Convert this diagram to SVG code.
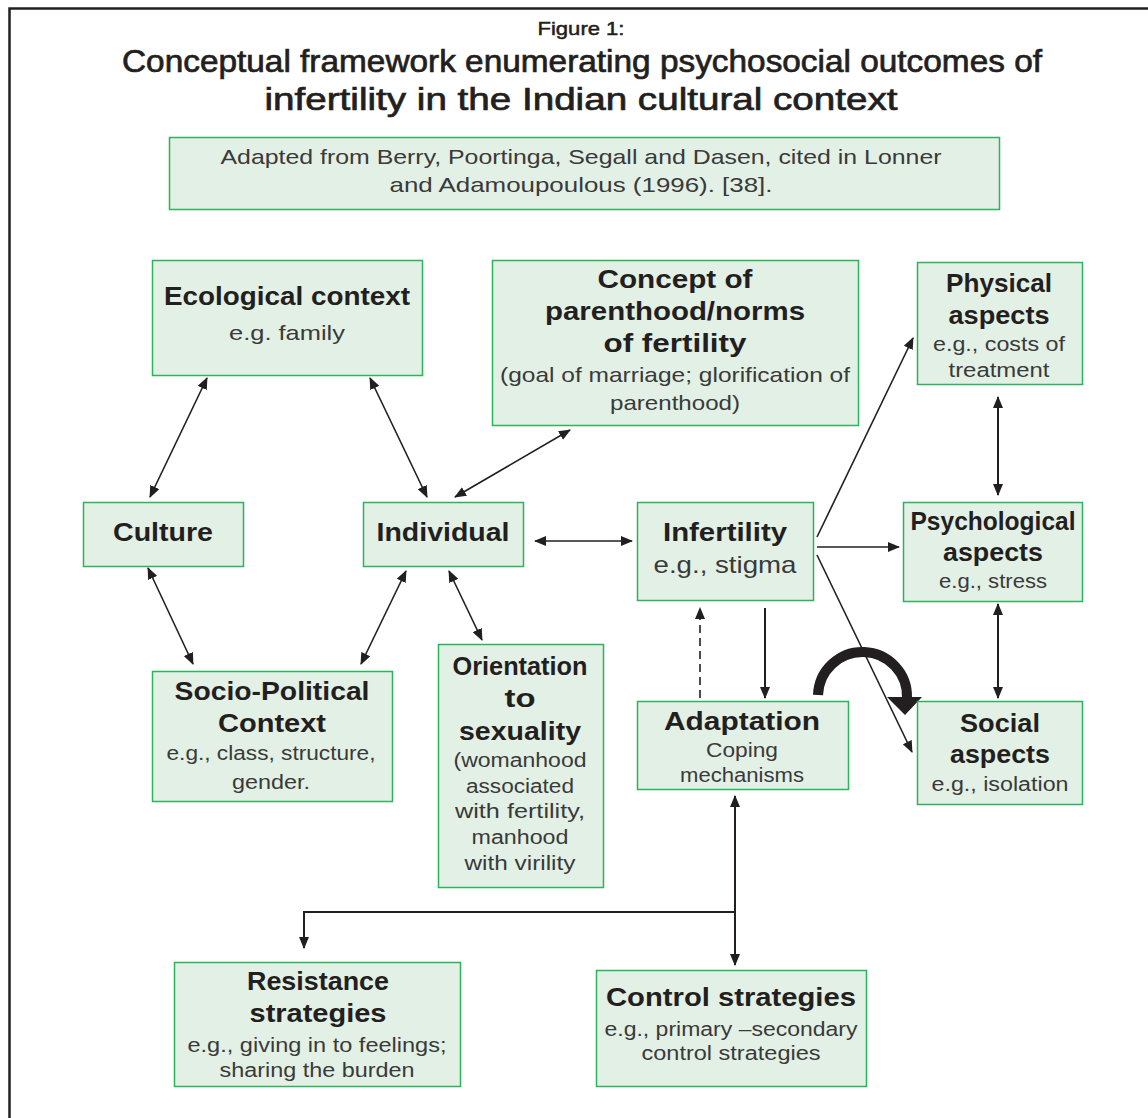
<svg xmlns="http://www.w3.org/2000/svg" width="1148" height="1118" viewBox="0 0 1148 1118">
<style>
.box{fill:#e3f0e5;stroke:#2db35c;stroke-width:1.5}
text{font-family:"Liberation Sans",Arial,sans-serif;text-anchor:middle}
.ti{fill:#231f20;stroke:#231f20;stroke-width:0.7}
.h{font-size:26px;font-weight:bold;fill:#231f20}
.s{font-size:21px;fill:#3a3a3a}
.t{font-size:20px;fill:#3a3a3a}
.c{stroke:#231f20;stroke-width:1.6;fill:none}
.v{stroke:#231f20;stroke-width:2;fill:none}
</style>
<defs>
<marker id="ah" viewBox="0 0 12 10" refX="11" refY="5" markerWidth="12" markerHeight="10" markerUnits="userSpaceOnUse" orient="auto-start-reverse">
<path d="M0,0 L12,5 L0,10 Z" fill="#231f20"/>
</marker>
</defs>
<rect width="1148" height="1118" fill="#fff"/>
<path d="M9.5,1118 V8.5 H1148" stroke="#231f20" stroke-width="2.5" fill="none"/>
<g id="title">
<text class="ti" x="581" y="35" style="font-size:19px;stroke-width:0.5" textLength="87" lengthAdjust="spacingAndGlyphs">Figure 1:</text>
<text class="ti" x="582" y="72" style="font-size:31px" textLength="920" lengthAdjust="spacingAndGlyphs">Conceptual framework enumerating psychosocial outcomes of</text>
<text class="ti" x="581" y="110" style="font-size:31px" textLength="633" lengthAdjust="spacingAndGlyphs">infertility in the Indian cultural context</text>
</g>
<g id="citation">
<rect class="box" x="169.5" y="137.5" width="830" height="72"/>
<text class="s" x="581" y="164" textLength="721" lengthAdjust="spacingAndGlyphs">Adapted from Berry, Poortinga, Segall and Dasen, cited in Lonner</text>
<text class="s" x="581" y="192" textLength="383" lengthAdjust="spacingAndGlyphs">and Adamoupoulous (1996). [38].</text>
</g>
<g id="connectors">
<line class="c" x1="207" y1="378" x2="150" y2="497" marker-start="url(#ah)" marker-end="url(#ah)"/>
<line class="c" x1="370" y1="378" x2="427" y2="497" marker-start="url(#ah)" marker-end="url(#ah)"/>
<line class="c" x1="570" y1="430" x2="455" y2="497" marker-start="url(#ah)" marker-end="url(#ah)"/>
<line class="c" x1="148" y1="568" x2="193" y2="664" marker-start="url(#ah)" marker-end="url(#ah)"/>
<line class="c" x1="406" y1="571" x2="361" y2="664" marker-start="url(#ah)" marker-end="url(#ah)"/>
<line class="c" x1="449" y1="571" x2="482" y2="640" marker-start="url(#ah)" marker-end="url(#ah)"/>
<line class="c" x1="535" y1="541" x2="632" y2="541" marker-start="url(#ah)" marker-end="url(#ah)"/>
<line class="c" x1="817" y1="537" x2="913" y2="338" marker-end="url(#ah)"/>
<line class="c" x1="817" y1="547" x2="899" y2="547" marker-end="url(#ah)"/>
<line class="c" x1="817" y1="555" x2="912" y2="752" marker-end="url(#ah)"/>
<line class="v" x1="998" y1="397" x2="998" y2="495" marker-start="url(#ah)" marker-end="url(#ah)"/>
<line class="v" x1="998" y1="604" x2="998" y2="698" marker-start="url(#ah)" marker-end="url(#ah)"/>
<line class="v" x1="765" y1="608" x2="765" y2="698" marker-end="url(#ah)"/>
<line class="c" x1="700" y1="698" x2="700" y2="608" stroke-dasharray="8,5" stroke="#555" marker-end="url(#ah)"/>
<line class="v" x1="735" y1="796" x2="735" y2="965" marker-start="url(#ah)" marker-end="url(#ah)"/>
<polyline class="v" points="735,912 304,912 304,948" marker-end="url(#ah)"/>
<path d="M818,695 A44.5,44.5 0 0 1 907,698" stroke="#231f20" stroke-width="10" fill="none"/>
<path d="M887,697 L922,697 L905,715 Z" fill="#231f20"/>
</g>
<g id="ecological">
<rect class="box" x="152.5" y="260.5" width="270" height="115"/>
<text class="h" x="287" y="305" textLength="246" lengthAdjust="spacingAndGlyphs">Ecological context</text>
<text class="s" x="287" y="340" textLength="116" lengthAdjust="spacingAndGlyphs">e.g. family</text>
</g>
<g id="concept">
<rect class="box" x="492.5" y="260.5" width="366" height="165"/>
<text class="h" x="675" y="288" textLength="155" lengthAdjust="spacingAndGlyphs">Concept of</text>
<text class="h" x="675" y="320" textLength="260" lengthAdjust="spacingAndGlyphs">parenthood/norms</text>
<text class="h" x="675" y="352" textLength="143" lengthAdjust="spacingAndGlyphs">of fertility</text>
<text class="s" x="675" y="382" textLength="350" lengthAdjust="spacingAndGlyphs">(goal of marriage; glorification of</text>
<text class="s" x="675" y="410" textLength="130" lengthAdjust="spacingAndGlyphs">parenthood)</text>
</g>
<g id="physical">
<rect class="box" x="917.5" y="262.5" width="165" height="122"/>
<text class="h" x="999" y="292" textLength="106" lengthAdjust="spacingAndGlyphs">Physical</text>
<text class="h" x="999" y="324" textLength="101" lengthAdjust="spacingAndGlyphs">aspects</text>
<text class="t" x="999" y="351" textLength="132" lengthAdjust="spacingAndGlyphs">e.g., costs of</text>
<text class="t" x="999" y="377" textLength="101" lengthAdjust="spacingAndGlyphs">treatment</text>
</g>
<g id="culture">
<rect class="box" x="83.5" y="502.5" width="160" height="64"/>
<text class="h" x="163" y="541" textLength="100" lengthAdjust="spacingAndGlyphs">Culture</text>
</g>
<g id="individual">
<rect class="box" x="363.5" y="502.5" width="160" height="64"/>
<text class="h" x="443" y="541" textLength="133" lengthAdjust="spacingAndGlyphs">Individual</text>
</g>
<g id="infertility">
<rect class="box" x="637.5" y="502.5" width="176" height="98"/>
<text class="h" x="725" y="541" textLength="124" lengthAdjust="spacingAndGlyphs">Infertility</text>
<text class="s" x="725" y="573" style="font-size:24px" textLength="143" lengthAdjust="spacingAndGlyphs">e.g., stigma</text>
</g>
<g id="psychological">
<rect class="box" x="903.5" y="502.5" width="179" height="99"/>
<text class="h" x="993" y="530" textLength="165" lengthAdjust="spacingAndGlyphs">Psychological</text>
<text class="h" x="993" y="561" textLength="100" lengthAdjust="spacingAndGlyphs">aspects</text>
<text class="t" x="993" y="588" textLength="108" lengthAdjust="spacingAndGlyphs">e.g., stress</text>
</g>
<g id="sociopolitical">
<rect class="box" x="152.5" y="671.5" width="240" height="130"/>
<text class="h" x="272" y="700" textLength="195" lengthAdjust="spacingAndGlyphs">Socio-Political</text>
<text class="h" x="272" y="732" textLength="108" lengthAdjust="spacingAndGlyphs">Context</text>
<text class="t" x="271" y="760" textLength="209" lengthAdjust="spacingAndGlyphs">e.g., class, structure,</text>
<text class="t" x="271" y="789" textLength="78" lengthAdjust="spacingAndGlyphs">gender.</text>
</g>
<g id="orientation">
<rect class="box" x="438.5" y="644.5" width="165" height="243"/>
<text class="h" x="520" y="675" textLength="135" lengthAdjust="spacingAndGlyphs">Orientation</text>
<text class="h" x="520" y="707" textLength="31" lengthAdjust="spacingAndGlyphs">to</text>
<text class="h" x="520" y="740" textLength="122" lengthAdjust="spacingAndGlyphs">sexuality</text>
<text class="t" x="520" y="767" textLength="133" lengthAdjust="spacingAndGlyphs">(womanhood</text>
<text class="t" x="520" y="793" textLength="108" lengthAdjust="spacingAndGlyphs">associated</text>
<text class="t" x="520" y="818" textLength="130" lengthAdjust="spacingAndGlyphs">with fertility,</text>
<text class="t" x="520" y="844" textLength="97" lengthAdjust="spacingAndGlyphs">manhood</text>
<text class="t" x="520" y="870" textLength="111" lengthAdjust="spacingAndGlyphs">with virility</text>
</g>
<g id="adaptation">
<rect class="box" x="637.5" y="701.5" width="211" height="88"/>
<text class="h" x="742" y="730" textLength="156" lengthAdjust="spacingAndGlyphs">Adaptation</text>
<text class="t" x="742" y="757" textLength="72" lengthAdjust="spacingAndGlyphs">Coping</text>
<text class="t" x="742" y="782" textLength="124" lengthAdjust="spacingAndGlyphs">mechanisms</text>
</g>
<g id="social">
<rect class="box" x="917.5" y="701.5" width="165" height="103"/>
<text class="h" x="1000" y="732" textLength="80" lengthAdjust="spacingAndGlyphs">Social</text>
<text class="h" x="1000" y="763" textLength="100" lengthAdjust="spacingAndGlyphs">aspects</text>
<text class="t" x="1000" y="791" textLength="137" lengthAdjust="spacingAndGlyphs">e.g., isolation</text>
</g>
<g id="resistance">
<rect class="box" x="174.5" y="962.5" width="286" height="124"/>
<text class="h" x="318" y="990" textLength="142" lengthAdjust="spacingAndGlyphs">Resistance</text>
<text class="h" x="318" y="1022" textLength="137" lengthAdjust="spacingAndGlyphs">strategies</text>
<text class="t" x="317" y="1052" textLength="259" lengthAdjust="spacingAndGlyphs">e.g., giving in to feelings;</text>
<text class="t" x="317" y="1077" textLength="195" lengthAdjust="spacingAndGlyphs">sharing the burden</text>
</g>
<g id="control">
<rect class="box" x="596.5" y="970.5" width="270" height="116"/>
<text class="h" x="731" y="1006" textLength="250" lengthAdjust="spacingAndGlyphs">Control strategies</text>
<text class="t" x="731" y="1036" textLength="253" lengthAdjust="spacingAndGlyphs">e.g., primary –secondary</text>
<text class="t" x="731" y="1060" textLength="179" lengthAdjust="spacingAndGlyphs">control strategies</text>
</g>
</svg>
